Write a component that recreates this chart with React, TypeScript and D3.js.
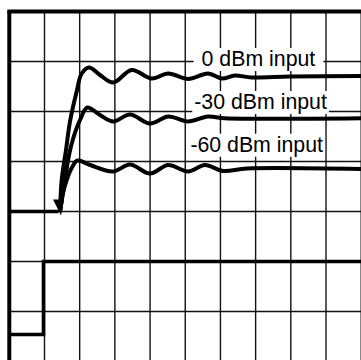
import React, { useEffect, useRef } from "react";
import * as d3 from "d3";

// Horizontal divisions (time) and vertical divisions (level)
const timeDivs = d3.range(0, 11);
const levelDivs = d3.range(0, 8);

// Input step (lower trace)
const inputTime = [0, 0.972, 0.972, 10];
const inputLevel = [0.54, 0.54, 2.0, 2.0];

// Output baseline before the rise
const baseTime = [0, 1.4];
const baseLevel = [3.0, 3.0];

// 0 dBm input response
const time0 = [1.441, 1.489, 1.611, 1.725, 1.915, 2.057, 2.273, 2.577, 2.955, 3.478, 4.047, 4.518, 5.08, 5.65, 6.04, 6.41, 6.89, 7.98, 10.0];
const level0 = [3.0, 3.63, 4.23, 4.8, 5.4, 5.76, 5.88, 5.73, 5.58, 5.83, 5.66, 5.76, 5.65, 5.76, 5.66, 5.72, 5.68, 5.7, 5.71];

// -30 dBm input response
const time30 = [1.441, 1.583, 1.697, 1.819, 2.009, 2.217, 2.577, 2.955, 3.43, 3.998, 4.518, 5.078, 5.646, 6.13, 10.0];
const level30 = [3.0, 3.63, 4.13, 4.47, 4.83, 5.08, 4.93, 4.8, 4.94, 4.76, 4.9, 4.8, 4.9, 4.865, 4.865];

// -60 dBm input response
const time60 = [1.441, 1.512, 1.631, 1.773, 1.938, 2.293, 2.955, 3.43, 3.998, 4.518, 5.078, 5.561, 6.072, 6.755, 10.0];
const level60 = [3.0, 3.33, 3.63, 3.87, 4.02, 3.93, 3.8, 3.94, 3.76, 3.93, 3.8, 3.93, 3.81, 3.86, 3.85];

// Labels
const labelTexts = ["0 dBm input", "-30 dBm input", "-60 dBm input"];
const labelTime = [7.08, 7.14, 7.03];
const labelLevel = [5.91, 5.05, 4.196];
const labelPad = [8, 2, 2];

const W = 361;
const H = 360;

export default function App() {
  const ref = useRef<SVGSVGElement | null>(null);

  useEffect(() => {
    const svg = d3.select(ref.current);
    svg.selectAll("*").remove();

    const x = d3.scaleLinear().domain([0, 10]).range([9.3, 361.2]);
    const y = d3.scaleLinear().domain([0, 7]).range([361.5, 11.5]);

    svg.append("rect").attr("width", W).attr("height", H).attr("fill", "#fff");

    const grid = svg.append("g").attr("stroke", "#111").attr("stroke-width", 1.4);
    grid
      .selectAll("line.v")
      .data(timeDivs.filter((d) => d > 0))
      .join("line")
      .attr("class", "v")
      .attr("x1", (d) => x(d))
      .attr("x2", (d) => x(d))
      .attr("y1", y(7))
      .attr("y2", H);
    grid
      .selectAll("line.h")
      .data(levelDivs.filter((d) => d > 0 && d < 7))
      .join("line")
      .attr("class", "h")
      .attr("x1", x(0))
      .attr("x2", W)
      .attr("y1", (d) => y(d))
      .attr("y2", (d) => y(d));

    // labels with white background
    const lg = svg.append("g");
    labelTexts.forEach((t, i) => {
      const g = lg.append("g");
      const rect = g.append("rect").attr("fill", "#fff");
      const text = g
        .append("text")
        .attr("x", x(labelTime[i]))
        .attr("y", y(labelLevel[i]))
        .attr("text-anchor", "middle")
        .attr("font-family", "'Liberation Sans', Arial, sans-serif")
        .attr("font-size", 21.3)
        .attr("fill", "#000")
        .text(t);
      const bb = (text.node() as SVGTextElement).getBBox();
      rect
        .attr("x", bb.x - labelPad[i])
        .attr("y", y(labelLevel[i]) - 18)
        .attr("width", bb.width + 2 * labelPad[i])
        .attr("height", 23);
    });

    const line = d3
      .line<[number, number]>()
      .x((d) => x(d[0]))
      .y((d) => y(d[1]));
    const smooth = d3
      .line<[number, number]>()
      .x((d) => x(d[0]))
      .y((d) => y(d[1]))
      .curve(d3.curveCatmullRom.alpha(0.5));

    const traces = svg
      .append("g")
      .attr("fill", "none")
      .attr("stroke", "#000")
      .attr("stroke-width", 4)
      .attr("stroke-linejoin", "round");

    const zip = (a: number[], b: number[]) => a.map((v, i) => [v, b[i]] as [number, number]);

    traces.append("path").attr("d", line(zip(inputTime, inputLevel))).attr("stroke-width", 3.6).attr("stroke-linejoin", "miter");
    traces.append("path").attr("d", line(zip(baseTime, baseLevel))).attr("stroke-width", 3.6);
    [zip(time0, level0), zip(time30, level30), zip(time60, level60)].forEach((pts) => {
      traces.append("path").attr("d", smooth(pts));
    });

    // arrowhead at the start of the rise
    const ax = x(time0[0]);
    const ay = y(level0[0]);
    svg
      .append("path")
      .attr("d", `M${ax - 7},${ay - 12} L${ax + 1},${ay + 4} L${ax + 4},${ay - 12} Z`)
      .attr("fill", "#000");

    // frame (top and left)
    const frame = svg.append("g").attr("stroke", "#000").attr("stroke-width", 4);
    frame.append("line").attr("x1", x(0) - 2).attr("x2", W).attr("y1", y(7)).attr("y2", y(7));
    frame.append("line").attr("x1", x(0)).attr("x2", x(0)).attr("y1", y(7)).attr("y2", H);
  }, []);

  return (
    <svg
      ref={ref}
      width={W}
      height={H}
      style={{ position: "absolute", left: 0, top: 0, display: "block" }}
    />
  );
}
